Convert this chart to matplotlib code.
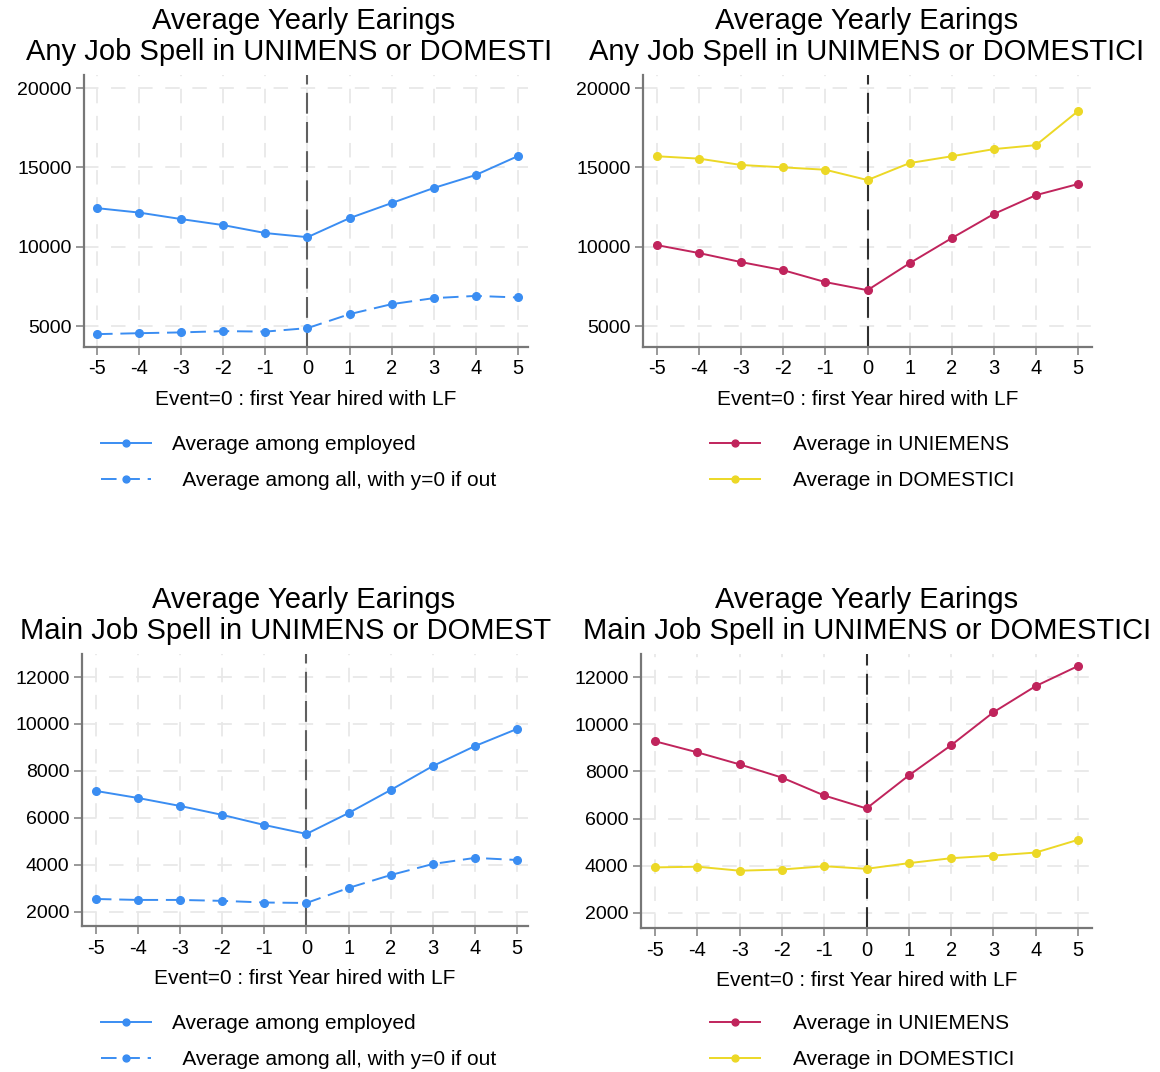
import matplotlib.pyplot as plt
from matplotlib.transforms import Bbox, TransformedBbox

plt.rcParams['font.family'] = ['Liberation Sans', 'DejaVu Sans']
plt.rcParams['axes.unicode_minus'] = False

# event time relative to first year hired
event = [-5, -4, -3, -2, -1, 0, 1, 2, 3, 4, 5]

# any job spell
any_employed = [12430, 12150, 11740, 11360, 10860, 10600, 11800, 12750, 13700, 14520, 15710]
any_all = [4490, 4550, 4600, 4680, 4650, 4870, 5750, 6380, 6760, 6900, 6800]
any_uniemens = [10100, 9600, 9030, 8520, 7770, 7260, 8960, 10540, 12060, 13250, 13950]
any_domestici = [15700, 15550, 15150, 15000, 14850, 14200, 15270, 15700, 16150, 16400, 18550]

# main job spell
main_employed = [7150, 6850, 6510, 6130, 5700, 5320, 6210, 7190, 8210, 9060, 9790]
main_all = [2550, 2510, 2510, 2470, 2400, 2380, 3020, 3570, 4040, 4300, 4210]
main_uniemens = [9280, 8810, 8300, 7740, 6980, 6430, 7830, 9110, 10510, 11620, 12470]
main_domestici = [3930, 3960, 3790, 3840, 3980, 3870, 4110, 4320, 4430, 4560, 5100]

any_yticks = [5000, 10000, 15000, 20000]
main_yticks = [2000, 4000, 6000, 8000, 10000, 12000]

xlabel = 'Event=0 : first Year hired with LF'
title_top = 'Average Yearly Earings'

BLUE = '#3a8df2'
RED = '#c0245c'
YELLOW = '#ecd826'

W, H = 1160, 1072
fig = plt.figure(figsize=(W / 100, H / 100), dpi=100)


def px_axes(left, right, top, bottom):
    return fig.add_axes([left / W, 1 - bottom / H, (right - left) / W, (bottom - top) / H])


def style(ax, yticks, ylim, xlim, vcolor):
    ax.set_xlim(*xlim)
    ax.set_ylim(*ylim)
    ax.set_xticks(event)
    ax.set_yticks(yticks)
    ax.tick_params(axis='x', labelsize=14.5, color='#888888', length=6, width=1.2, pad=3)
    ax.tick_params(axis='y', labelsize=14, color='#888888', length=6, width=1.2, pad=3)
    for s in ['top', 'right']:
        ax.spines[s].set_visible(False)
    for s in ['left', 'bottom']:
        ax.spines[s].set_color('#777777')
        ax.spines[s].set_linewidth(1.6)
    ax.grid(True, color='#e8e8e8', linestyle=(0, (8, 7)), linewidth=1.3)
    ax.set_axisbelow(True)
    ax.axvline(0, color=vcolor, linestyle=(0, (10, 4)), linewidth=1.5, zorder=1.5)
    ax.set_xlabel(xlabel, fontsize=15, labelpad=8)


def titles(cx, y1, y2, line2, clip_right=None):
    fig.text(cx / W, 1 - y1 / H, title_top, ha='center', va='center', fontsize=21)
    t = fig.text(cx / W, 1 - y2 / H, line2, ha='center', va='center', fontsize=21)
    if clip_right is not None:
        t.set_clip_on(True)
        t.set_clip_box(TransformedBbox(Bbox([[0, 0], [clip_right / W, 1]]), fig.transFigure))


line_kw = dict(linewidth=1.4, marker='o', markersize=5.5)
dash_all = (0, (8, 4))

# top left: any job spell, employed vs all
ax1 = px_axes(84, 528, 75, 347)
style(ax1, any_yticks, (3680, 20820), (-5.31, 5.24), '#606060')
ax1.plot(event, any_employed, color=BLUE, label='Average among employed', **line_kw)
ax1.plot(event, any_all, color=BLUE, linestyle=dash_all,
         label='  Average among all, with y=0 if out', **line_kw)
titles(304, 21, 52, 'Any Job Spell in UNIMENS or DOMESTICI', clip_right=551)

# top right: any job spell by register
ax2 = px_axes(643, 1092, 75, 347)
style(ax2, any_yticks, (3680, 20820), (-5.33, 5.33), '#303030')
ax2.plot(event, any_uniemens, color=RED, label='Average in UNIEMENS', **line_kw)
ax2.plot(event, any_domestici, color=YELLOW, label='Average in DOMESTICI', **line_kw)
titles(867, 21, 52, 'Any Job Spell in UNIMENS or DOMESTICI')

# bottom left: main job spell, employed vs all
ax3 = px_axes(82, 528, 654, 926)
style(ax3, main_yticks, (1400, 12980), (-5.33, 5.26), '#606060')
ax3.plot(event, main_employed, color=BLUE, label='Average among employed', **line_kw)
ax3.plot(event, main_all, color=BLUE, linestyle=dash_all,
         label='  Average among all, with y=0 if out', **line_kw)
titles(304, 600, 631, 'Main Job Spell in UNIMENS or DOMESTICI', clip_right=551)

# bottom right: main job spell by register
ax4 = px_axes(641, 1092, 654, 928)
style(ax4, main_yticks, (1360, 12980), (-5.33, 5.33), '#303030')
ax4.plot(event, main_uniemens, color=RED, label='Average in UNIEMENS', **line_kw)
ax4.plot(event, main_domestici, color=YELLOW, label='Average in DOMESTICI', **line_kw)
titles(867, 600, 631, 'Main Job Spell in UNIMENS or DOMESTICI')

leg_kw = dict(loc='upper left', frameon=False, fontsize=15, handlelength=2.4,
              labelspacing=0.8, markerscale=0.9,
              bbox_transform=fig.transFigure, borderaxespad=0)
ax1.legend(bbox_to_anchor=(93 / W, 1 - 427 / H), handletextpad=1.0, **leg_kw)
ax2.legend(bbox_to_anchor=(702 / W, 1 - 427 / H), handletextpad=1.55, **leg_kw)
ax3.legend(bbox_to_anchor=(93 / W, 1 - 1006 / H), handletextpad=1.0, **leg_kw)
ax4.legend(bbox_to_anchor=(702 / W, 1 - 1006 / H), handletextpad=1.55, **leg_kw)

plt.savefig('out.png', dpi=100)
